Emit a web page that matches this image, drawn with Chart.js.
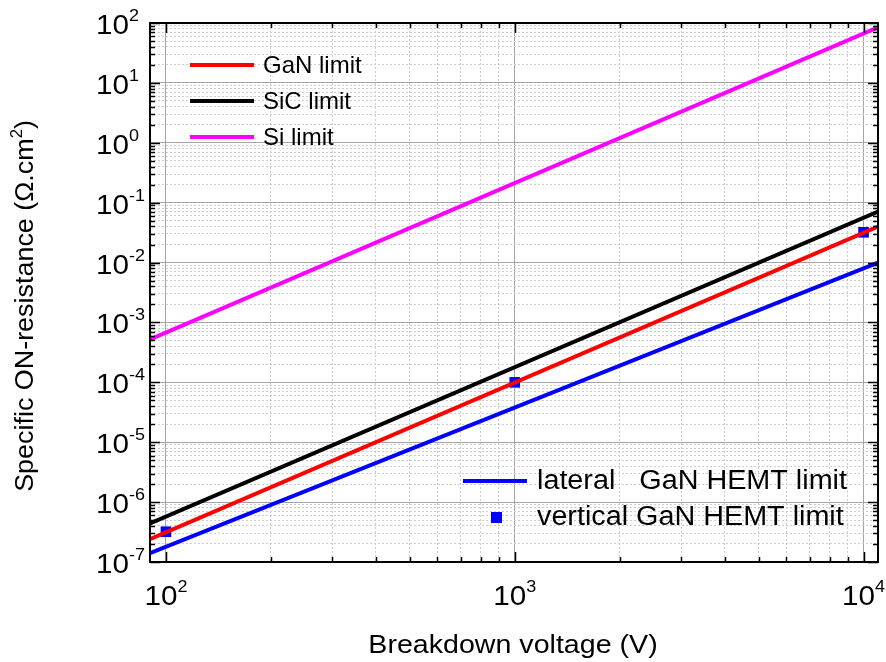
<!DOCTYPE html>
<html>
<head>
<meta charset="utf-8">
<title>Specific ON-resistance vs breakdown voltage</title>
<script src="https://cdn.jsdelivr.net/npm/chart.js@4.4.1/dist/chart.umd.min.js"></script>
<style>
  html, body { margin: 0; padding: 0; background: #fff; }
  #wrap { width: 886px; height: 662px; }
</style>
</head>
<body>
<div id="wrap"><canvas id="chart" width="886" height="662"></canvas></div>
<script>
'use strict';

// ── DATA ──────────────────────────────────────────────────────
// end points of each limit line (V)
const voltageEnds = [90, 11000];

// specific ON-resistance at those voltages (Ohm.cm2)
const ganLimit     = [2.4e-7, 4.0e-2];
const sicLimit     = [4.4e-7, 7.1e-2];
const siLimit      = [5.2e-4, 85];
const lateralLimit = [1.4e-7, 1.0e-2];

// vertical GaN HEMT points
const verticalVoltage = [100, 1000, 10000];
const verticalRon     = [3.2e-7, 1.0e-4, 3.2e-2];

// decade exponents used for tick labels
const xExponents = [2, 3, 4];
const yExponents = [-7, -6, -5, -4, -3, -2, -1, 0, 1, 2];

const X_MIN = 90, X_MAX = 11000;
const Y_MIN = 1e-7, Y_MAX = 100;

const FONT = "'Liberation Sans', Arial, sans-serif";

// ── HELPERS ───────────────────────────────────────────────────

function pairs(xs, ys) {
  return xs.map((x, i) => ({ x, y: ys[i] }));
}

// 1..9 x 10^e for every decade, inside [min, max]
function decadeTicks(exps, min, max) {
  const out = [];
  exps.forEach(e => {
    for (let m = 1; m <= 9; m++) {
      const v = m * Math.pow(10, e);
      if (v >= min * 0.999 && v <= max * 1.001) out.push({ value: v, major: m === 1 });
    }
  });
  return out;
}

const gridColor = ctx => (ctx.tick && ctx.tick.major) ? '#a4a4a4' : '#cdcdcd';
const gridDash  = ctx => (ctx.tick && !ctx.tick.major) ? [2, 2] : [];

// text drawn with a horizontal stretch factor (sx)
function wideText(ctx, text, x, y, sx) {
  ctx.save();
  ctx.translate(x, y);
  ctx.scale(sx, 1);
  ctx.fillText(text, 0, 0);
  ctx.restore();
}

const LABEL_SX = 1.06;

// "10" followed by a raised exponent, drawn from x
function drawPower(ctx, x, base, exp) {
  ctx.textAlign = 'left';
  ctx.font = '28px ' + FONT;
  wideText(ctx, '10', x, base, LABEL_SX);
  const w = ctx.measureText('10').width * LABEL_SX;
  ctx.font = '17px ' + FONT;
  wideText(ctx, String(exp), x + w, base - 13, LABEL_SX);
}

function tenWidth(ctx) {
  ctx.font = '28px ' + FONT;
  return ctx.measureText('10').width * LABEL_SX;
}

function supWidth(ctx, exp) {
  ctx.font = '17px ' + FONT;
  return ctx.measureText(String(exp)).width * LABEL_SX;
}

// ── FRAME, TICKS, LABELS, LEGENDS ─────────────────────────────

const framePlugin = {
  id: 'frame',
  afterDatasetsDraw(chart) {
    const { ctx, chartArea: a, scales: { x, y } } = chart;
    ctx.save();

    // inward ticks on all four sides
    ctx.strokeStyle = '#000';
    ctx.lineWidth = 1.5;
    ctx.beginPath();
    x.ticks.forEach(t => {
      const px = Math.round(x.getPixelForValue(t.value)) + 0.5;
      const len = t.major ? 10 : 5;
      ctx.moveTo(px, a.bottom); ctx.lineTo(px, a.bottom - len);
      ctx.moveTo(px, a.top);    ctx.lineTo(px, a.top + len);
    });
    y.ticks.forEach(t => {
      const py = Math.round(y.getPixelForValue(t.value)) + 0.5;
      const len = t.major ? 10 : 5;
      ctx.moveTo(a.left, py);  ctx.lineTo(a.left + len, py);
      ctx.moveTo(a.right, py); ctx.lineTo(a.right - len, py);
    });
    ctx.stroke();

    // box
    ctx.lineWidth = 2;
    ctx.strokeRect(a.left, a.top, a.right - a.left, a.bottom - a.top);

    // tick labels
    ctx.fillStyle = '#000';
    ctx.textBaseline = 'alphabetic';
    const w10 = tenWidth(ctx);
    xExponents.forEach(e => {
      const px = x.getPixelForValue(Math.pow(10, e));
      const w = w10 + supWidth(ctx, e);
      drawPower(ctx, px - w / 2, 605, e);
    });
    yExponents.forEach(e => {
      const py = y.getPixelForValue(Math.pow(10, e));
      drawPower(ctx, 129 - w10, py + 11, e);
    });

    // axis titles
    ctx.font = '26px ' + FONT;
    ctx.textAlign = 'center';
    wideText(ctx, 'Breakdown voltage (V)', (a.left + a.right) / 2 - 1, 653, 1.1);

    ctx.save();
    ctx.translate(33, 306);
    ctx.rotate(-Math.PI / 2);
    ctx.scale(1.035, 1);
    const head = 'Specific ON-resistance (\u03A9.cm';
    ctx.font = '26px ' + FONT;
    const wHead = ctx.measureText(head).width;
    const wTail = ctx.measureText(')').width;
    ctx.font = '16px ' + FONT;
    const wSup = ctx.measureText('2').width;
    const sx = -(wHead + wSup + wTail) / 2;
    ctx.textAlign = 'left';
    ctx.font = '26px ' + FONT;
    ctx.fillText(head, sx, 0);
    ctx.font = '16px ' + FONT;
    ctx.fillText('2', sx + wHead, -11);
    ctx.font = '26px ' + FONT;
    ctx.fillText(')', sx + wHead + wSup, 0);
    ctx.restore();

    // legends: material limits, top left
    const ds = chart.data.datasets;
    ctx.textAlign = 'left';
    ctx.textBaseline = 'middle';
    ctx.lineWidth = 4;
    ctx.font = '24px ' + FONT;
    const topLegend = [[0, 65], [1, 101], [2, 137]];
    topLegend.forEach(([i, ly]) => {
      ctx.strokeStyle = ds[i].borderColor;
      ctx.beginPath(); ctx.moveTo(190, ly); ctx.lineTo(254, ly); ctx.stroke();
      wideText(ctx, ds[i].label, 263, ly + 1, 1.0);
    });

    // legends: HEMT limits, bottom right
    ctx.font = '27px ' + FONT;
    ctx.strokeStyle = ds[3].borderColor;
    ctx.beginPath(); ctx.moveTo(463, 481); ctx.lineTo(527, 481); ctx.stroke();
    wideText(ctx, ds[3].label, 537, 482, 1.065);
    ctx.fillStyle = ds[4].backgroundColor;
    ctx.fillRect(491, 512, 11, 11);
    ctx.fillStyle = '#000';
    wideText(ctx, ds[4].label, 537, 518, 1.065);

    ctx.restore();
  },
};

// ── CHART ─────────────────────────────────────────────────────

const lineStyle = color => ({
  borderColor: color,
  backgroundColor: color,
  borderWidth: 4,
  pointRadius: 0,
  fill: false,
  tension: 0,
});

new Chart(document.getElementById('chart'), {
  type: 'line',
  data: {
    datasets: [
      { label: 'GaN limit', data: pairs(voltageEnds, ganLimit), ...lineStyle('#ff0000') },
      { label: 'SiC limit', data: pairs(voltageEnds, sicLimit), ...lineStyle('#000000') },
      { label: 'Si limit',  data: pairs(voltageEnds, siLimit),  ...lineStyle('#ff00ff') },
      { label: 'lateral   GaN HEMT limit', data: pairs(voltageEnds, lateralLimit), ...lineStyle('#0000ff') },
      {
        label: 'vertical GaN HEMT limit',
        data: pairs(verticalVoltage, verticalRon),
        showLine: false,
        pointStyle: 'rect',
        pointRadius: 7.5,
        pointBorderWidth: 0,
        borderColor: '#0000ff',
        backgroundColor: '#0000ff',
        pointBackgroundColor: '#0000ff',
      },
    ],
  },
  options: {
    responsive: false,
    animation: false,
    events: [],
    layout: { padding: { left: 150, top: 23, right: 8, bottom: 100 } },
    plugins: { legend: { display: false }, tooltip: { enabled: false } },
    scales: {
      x: {
        type: 'logarithmic',
        min: X_MIN, max: X_MAX,
        bounds: 'data',
        afterBuildTicks: s => { s.ticks = decadeTicks([2, 3, 4], X_MIN, X_MAX); },
        afterFit: s => { s.height = 0; },
        ticks: { display: false },
        grid: { color: gridColor, lineWidth: 1, drawTicks: false },
        border: { display: false, dash: gridDash },
      },
      y: {
        type: 'logarithmic',
        min: Y_MIN, max: Y_MAX,
        bounds: 'data',
        afterBuildTicks: s => { s.ticks = decadeTicks([-7, -6, -5, -4, -3, -2, -1, 0, 1, 2], Y_MIN, Y_MAX); },
        afterFit: s => { s.width = 0; },
        ticks: { display: false },
        grid: { color: gridColor, lineWidth: 1, drawTicks: false },
        border: { display: false, dash: gridDash },
      },
    },
  },
  plugins: [framePlugin],
});
</script>
</body>
</html>
